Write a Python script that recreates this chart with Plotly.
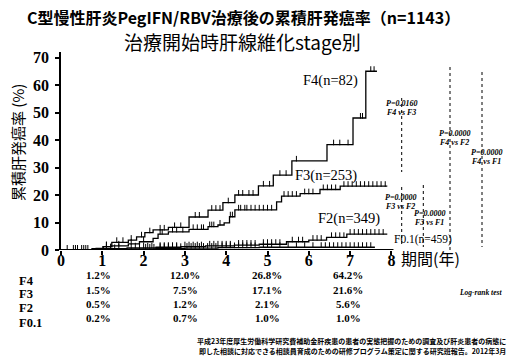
import numpy as np
import plotly.graph_objects as go

# ---- data (years, cumulative incidence %) ----
F4_t = [0, 0.85, 1.02, 1.23, 1.63, 1.83, 2.03, 2.23, 2.6, 3.1, 3.56, 3.92, 4.21, 4.78, 5.14, 5.59, 6.44, 7.07, 7.38]
F4_v = [0, 0.6, 1.2, 2.8, 3.6, 4.8, 6.3, 7.3, 8.2, 12.0, 14.5, 17.2, 20.0, 23.3, 27.2, 32.4, 38.3, 48.0, 65.0]
F4_end = 7.65
F4_c = [1.1, 1.35, 1.5, 1.7, 1.95, 2.15, 2.4, 2.5, 2.75, 2.9, 3.25, 3.35, 3.65, 3.75, 3.85, 4.05,
        4.3, 4.4, 4.55, 4.65, 4.9, 5.05, 5.3, 5.45, 5.7, 6.6, 6.75, 6.95, 7.25, 7.3, 7.5, 7.58]

F3_t = [0, 0.75, 1.02, 1.23, 1.63, 1.9, 2.23, 2.35, 2.6, 3.1, 3.56, 3.8, 3.95, 4.08, 4.21, 5.22, 5.34, 5.79, 6.27, 6.76]
F3_v = [0, 0.5, 1.2, 1.5, 2.2, 3.0, 4.2, 5.8, 6.6, 7.5, 8.5, 9.1, 9.9, 12.1, 14.6, 17.5, 19.6, 20.5, 22.0, 23.2]
F3_end = 7.9
F3_c = [0.3, 0.55, 1.1, 1.4, 1.7, 2.0, 2.4, 2.45, 2.7, 2.8, 2.95, 3.2, 3.3, 3.4, 3.45, 3.6, 3.65, 3.7,
        3.85, 4.1, 4.15, 4.3, 4.35, 4.45, 4.5, 4.6, 4.7, 4.8, 4.9, 5.0, 5.1, 5.4, 5.5, 5.6, 5.7, 5.9,
        6.0, 6.1, 6.35, 6.45, 6.55, 6.65, 6.85, 6.95, 7.05, 7.15, 7.25, 7.35, 7.45, 7.55, 7.65, 7.75, 7.85]

F2_t = [0, 0.8, 1.0, 1.6, 2.3, 2.9, 3.5, 4.2, 4.8, 5.46, 6.0, 6.43, 6.92]
F2_v = [0, 0.3, 0.5, 0.8, 1.0, 1.2, 1.5, 1.8, 2.1, 3.0, 3.6, 4.6, 5.8]
F2_end = 7.9
F2_c = [0.4, 0.6, 1.2, 1.4, 1.8, 2.0, 2.1, 2.2, 2.4, 2.5, 2.6, 2.7, 2.8, 3.0, 3.1, 3.2, 3.3, 3.4,
        3.6, 3.7, 3.8, 3.9, 4.0, 4.1, 4.3, 4.4, 4.5, 4.6, 4.7, 4.9, 5.0, 5.1, 5.2, 5.3, 5.6, 5.75,
        5.85, 6.1, 6.2, 6.3, 6.55, 6.65, 6.75, 6.85, 7.0, 7.1, 7.2, 7.3, 7.4, 7.5, 7.6, 7.7, 7.8]

F01_t = [0, 0.9, 1.5, 2.3, 3.0, 3.8, 4.8]
F01_v = [0, 0.2, 0.4, 0.6, 0.7, 0.9, 1.0]
F01_end = 7.6
F01_c = [0.15, 0.35, 0.5, 0.65, 1.1, 1.3, 1.7, 1.9, 2.05, 2.15, 2.25, 2.4, 2.5, 2.6, 2.7, 2.8, 2.9,
         3.05, 3.15, 3.25, 3.35, 3.45, 3.55, 3.65, 3.75, 3.9, 4.0, 4.1, 4.2, 4.3, 4.4, 4.5, 4.6,
         4.7, 4.9, 5.0, 5.1, 5.3, 5.5, 5.7, 5.9, 6.1, 6.3, 6.4, 6.5, 6.6, 6.7, 6.8, 6.9, 7.0, 7.1,
         7.2, 7.3, 7.4, 7.5]

series_labels = ["F4(n=82)", "F3(n=253)", "F2(n=349)", "F0.1(n=459)"]
label_pos = [(330, 80), (326, 175), (349, 218), (423, 239)]  # pixel centres
label_size = [14.5, 14.5, 14.5, 11.5]

table_rows = ["F4", "F3", "F2", "F0.1"]
table_years = [1, 3, 5, 7]
table_vals = [["1.2%", "12.0%", "26.8%", "64.2%"],
              ["1.5%", "7.5%", "17.1%", "21.6%"],
              ["0.5%", "1.2%", "2.1%", "5.6%"],
              ["0.2%", "0.7%", "1.0%", "1.0%"]]

pvals = [("P=0.0160", "F4 vs F3"), ("P=0.0000", "F4 vs F2"), ("P=0.0000", "F4 vs F1"),
         ("P=0.0000", "F3 vs F2"), ("P=0.0000", "F3 vs F1")]

x_ticks = [0, 1, 2, 3, 4, 5, 6, 7, 8]
y_ticks = [0, 10, 20, 30, 40, 50, 60, 70]

SERIF = "Liberation Serif"
CJK = "Noto Sans CJK JP"

W, H = 509, 358
L, R, T, B = 61, 4, 52, 108
PW, PH = W - L - R, H - T - B


def px(x):
    return (x - L) / PW


def py(y):
    return (H - B - y) / PH


fig = go.Figure()

curves = [(F4_t, F4_v, F4_end, F4_c), (F3_t, F3_v, F3_end, F3_c),
          (F2_t, F2_v, F2_end, F2_c), (F01_t, F01_v, F01_end, F01_c)]
for t, v, end, c in curves:
    xs = list(t) + [end]
    ys = list(v) + [v[-1]]
    fig.add_trace(go.Scatter(x=xs, y=ys, mode="lines", line=dict(color="black", width=1.3, shape="hv"),
                             hoverinfo="skip"))
    idx = np.searchsorted(np.array(t), np.array(c), side="right") - 1
    cy = np.array(v)[idx] + 0.8
    fig.add_trace(go.Scatter(x=c, y=cy, mode="markers",
                             marker=dict(symbol="line-ns", size=4, line=dict(color="black", width=1)),
                             hoverinfo="skip"))

shapes = [dict(type="line", xref="x", yref="y", x0=0, x1=8.05, y0=0, y1=0,
               line=dict(color="black", width=2.2))]

# dotted log-rank lines (pixel positions)
pv_lines = [(401.7, 98, 172), (450, 67, 250), (482, 72, 247), (401.7, 187, 247), (423.3, 185, 247)]
for xl, y0, y1 in pv_lines:
    shapes.append(dict(type="line", xref="paper", yref="paper", x0=px(xl), x1=px(xl), y0=py(y0), y1=py(y1),
                       line=dict(color="black", width=1, dash="dot")))

ann = []


def A(text, x, y, size, family, xanchor="center", bold=False, italic=False, angle=0, color="black"):
    t = text
    if bold:
        t = "<b>" + t + "</b>"
    if italic:
        t = "<i>" + t + "</i>"
    ann.append(dict(text=t, x=px(x), y=py(y), xref="paper", yref="paper", showarrow=False,
                    xanchor=xanchor, yanchor="middle", textangle=angle,
                    font=dict(size=size, family=family, color=color)))


A("<b>C型慢性肝炎PegIFN/RBV治療後の累積肝発癌率（n=1143）</b>", 243, 17, 16, CJK)
A("治療開始時肝線維化stage別", 242, 42, 19, CJK)
A("累積肝発癌率 (%)", 17, 143, 15, CJK, angle=-90)
A("期間(年)", 430, 258, 16, CJK)

for lab, (lx, ly), s in zip(series_labels, label_pos, label_size):
    A(lab, lx, ly, s, SERIF)

pv_text_pos = [(401, 103, 112), (454, 133, 142), (486, 152, 161), (400, 197, 206), (429, 213, 222)]
for (p, vs), (cx, ya, yb) in zip(pvals, pv_text_pos):
    A(p, cx, ya, 8, SERIF, bold=True, italic=True)
    A(vs, cx, yb, 8, SERIF, bold=True, italic=True)

row_label_y = [281, 294, 308, 323]
row_val_y = [275, 290, 304, 318]
col_x = [98, 185, 267, 348]
for i, r in enumerate(table_rows):
    A(r, 17, row_label_y[i], 12.5, SERIF, xanchor="left", bold=True)
    for j, yr in enumerate(table_years):
        A(table_vals[i][j], col_x[j], row_val_y[i], 11, SERIF, bold=True)

A("Log-rank test", 480, 292, 7.5, SERIF, bold=True, italic=True)

ann.append(dict(text="<b>平成23年度厚生労働科学研究費補助金肝疾患の患者の実態把握のための調査及び肝炎患者の病態に</b>",
                x=px(508), y=py(341), xref="paper", yref="paper", showarrow=False, xanchor="right",
                yanchor="middle", font=dict(size=7, family=CJK, color="black")))
ann.append(dict(text="<b>即した相談に対応できる相談員育成のための研修プログラム策定に関する研究班報告。2012年3月</b>",
                x=px(508), y=py(351), xref="paper", yref="paper", showarrow=False, xanchor="right",
                yanchor="middle", font=dict(size=7, family=CJK, color="black")))

fig.update_layout(
    width=W, height=H, autosize=False,
    margin=dict(l=L, r=R, t=T, b=B, pad=0),
    paper_bgcolor="white", plot_bgcolor="white",
    showlegend=False,
    shapes=shapes, annotations=ann,
    xaxis=dict(range=[0, 10.75], tickvals=x_ticks, ticktext=[str(v) for v in x_ticks],
               ticks="outside", ticklen=4, tickwidth=1.5, tickcolor="black",
               ticklabelstandoff=-8,
               showline=False, showgrid=False, zeroline=False,
               tickfont=dict(family=SERIF, size=16, color="black", weight="bold")),
    yaxis=dict(range=[0, 72], tickvals=y_ticks, ticks="outside", ticklen=4, tickwidth=1.5,
               tickcolor="black", showline=True, linewidth=1.5, linecolor="black",
               ticklabelstandoff=3,
               showgrid=False, zeroline=False,
               tickfont=dict(family=SERIF, size=16, color="black", weight="bold")),
)

fig.write_html("out.html")
